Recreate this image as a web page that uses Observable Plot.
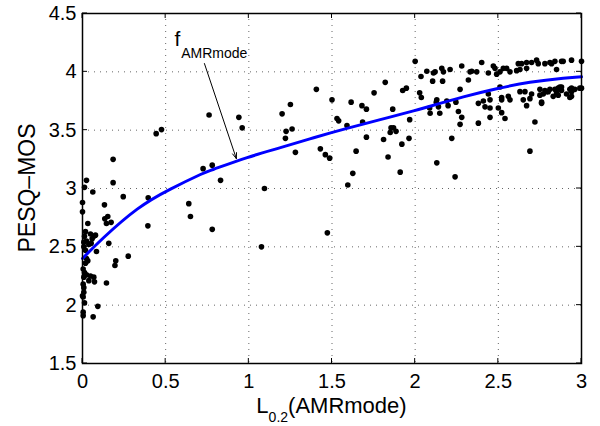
<!DOCTYPE html>
<html>
<head>
<meta charset="utf-8">
<script src="https://cdn.jsdelivr.net/npm/d3@7"></script>
<script src="https://cdn.jsdelivr.net/npm/@observablehq/plot@0.6"></script>
<style>
  body { margin: 0; background: #fff; }
  #chart svg { display: block; }
</style>
</head>
<body>
<div id="chart"></div>
<script>
// ---- tick values ----
const xTicks = [0, 0.5, 1, 1.5, 2, 2.5, 3];
const yTicks = [1.5, 2, 2.5, 3, 3.5, 4, 4.5];

// ---- axis labels ----
const yLabel = "PESQ–MOS";
const xLabelMain = "L";
const xLabelSub = "0.2";
const xLabelTail = "(AMRmode)";

// ---- fitted curve f_AMRmode ----
const curveX = [0, 0.128, 0.329, 0.529, 0.709, 0.789, 0.99, 1.19, 1.39, 1.59, 1.79, 1.99, 2.09, 2.29, 2.49, 2.69, 2.89, 3.0];
const curveY = [2.40, 2.58, 2.823, 2.995, 3.12, 3.165, 3.265, 3.35, 3.435, 3.515, 3.59, 3.665, 3.705, 3.785, 3.855, 3.91, 3.945, 3.957];

// ---- scatter points [L0.2, PESQ-MOS] ----
const scatter = [
  [0.024,3.07],[0.012,3.01],[0.184,3.05],[0.184,3.25],[0.062,2.97],[0.245,2.93],[0,2.88],[0,2.80],
  [0.132,2.86],[0.032,2.70],[0.134,2.74],[0.152,2.76],[0.144,2.70],[0.172,2.71],[0.393,2.68],[0.395,2.92],
  [0.018,2.63],[0.048,2.61],[0.068,2.59],[0.078,2.60],[0.058,2.57],[0.024,2.55],[0.012,2.59],[0.008,2.54],
  [0.038,2.52],[0.052,2.53],[0.008,2.50],[0.018,2.47],[0.084,2.46],[0.158,2.53],[0.2,2.38],[0.195,2.34],
  [0.275,2.42],[0.024,2.40],[0.032,2.38],[0.018,2.36],[0.004,2.31],[0.012,2.28],[0.024,2.26],[0.008,2.24],
  [0.048,2.25],[0.038,2.21],[0.072,2.20],[0.004,2.18],[0.008,2.15],[0.068,2.24],[0,2.08],[0.004,2.07],
  [0.012,2.02],[0.004,1.94],[0.004,1.91],[0.008,2.11],[0.144,2.19],[0.092,1.99],[0.064,1.90],
  [0.443,3.47],[0.475,3.505],[0.639,2.87],[0.649,2.76],[0.725,3.17],[0.78,3.20],[0.83,3.07],[0.78,2.65],
  [0.761,3.63],[0.94,3.61],[0.96,3.52],[1.094,3.0],[1.076,2.50],
  [1.20,3.64],[1.25,3.72],[1.224,3.49],[1.26,3.51],[1.22,3.43],[1.28,3.31],[1.406,3.85],[1.43,3.34],
  [1.46,3.29],[1.486,3.26],[1.472,2.62],[1.50,3.76],[1.53,3.60],[1.54,3.58],[1.59,3.54],[1.615,3.74],
  [1.68,3.71],[1.707,3.68],[1.645,3.32],[1.625,3.13],[1.595,3.03],[1.684,3.57],[1.707,3.44],[1.753,3.82],
  [1.82,3.91],[1.81,3.42],[1.837,3.27],[1.865,3.68],[1.85,3.48],[1.87,3.52],[1.855,3.52],[1.885,3.49],
  [1.92,3.38],[1.91,3.14],[1.963,3.43],[1.967,3.59],[1.925,3.84],[1.947,3.86],[2.0,4.09],[2.035,3.96],
  [2.027,3.82],[2.037,3.78],[2.087,3.69],[2.09,3.645],[2.13,3.76],[2.127,3.74],[2.14,3.70],[2.148,3.645],
  [2.19,3.75],[2.198,3.71],[2.245,3.74],[2.26,3.66],[2.28,3.61],[2.27,3.55],[2.105,3.92],[2.165,3.92],
  [2.07,4.005],[2.11,3.99],[2.12,4.0],[2.16,4.03],[2.17,4.0],[2.21,4.02],[2.28,4.05],[2.33,4.0],
  [2.34,4.005],[2.37,4.0],[2.40,4.08],[2.44,3.99],[2.47,4.05],[2.48,4.03],[2.49,3.98],[2.51,4.0],
  [2.53,4.03],[2.55,4.03],[2.57,4.0],[2.61,4.01],[2.62,4.07],[2.64,4.07],[2.63,4.02],[2.67,4.03],
  [2.67,4.08],[2.70,4.08],[2.73,4.10],[2.74,4.07],[2.78,4.07],[2.81,4.08],[2.82,4.07],[2.84,4.09],
  [2.85,4.02],[2.88,4.09],[2.89,4.09],[2.94,4.10],[3.0,4.09],
  [2.27,3.85],[2.32,3.93],[2.38,3.73],[2.41,3.75],[2.42,3.70],[2.45,3.76],[2.45,3.69],[2.38,3.56],
  [2.45,3.61],[2.44,3.81],[2.51,3.87],[2.50,3.69],[2.52,3.65],[2.54,3.60],[2.52,3.76],[2.57,3.76],
  [2.52,3.78],[2.56,3.79],[2.63,3.83],[2.66,3.83],[2.65,3.76],[2.69,3.77],[2.67,3.71],[2.70,3.81],
  [2.72,3.57],[2.75,3.80],[2.76,3.74],[2.78,3.84],[2.77,3.81],[2.80,3.83],[2.81,3.85],[2.84,3.85],
  [2.85,3.82],[2.86,3.86],[2.88,3.87],[2.91,3.81],[2.93,3.85],[2.94,3.86],[2.96,3.85],[3.0,3.86],
  [2.93,3.78],[2.83,3.79],[2.75,3.85],[2.79,3.83],[2.87,3.87],[2.88,3.84],[2.94,3.83],[2.99,3.86],
  [2.94,3.79],[2.86,3.80],[2.76,3.73],
  [2.22,3.43],[2.13,3.22],[2.24,3.10],[2.69,3.32]
];

// ---- annotation ----
const annotArrow = [{x1: 0.733, y1: 4.071, x2: 0.925, y2: 3.256}];
const annotMain = [{x: 0.553, y: 4.283, text: "f"}];
const annotSub = [{x: 0.593, y: 4.161, text: "AMRmode"}];

const curve = curveX.map((x, i) => ({x, y: curveY[i]}));
const points = scatter.map(([x, y]) => ({x, y}));

const chart = Plot.plot({
  width: 600,
  height: 426,
  marginLeft: 82,
  marginRight: 19,
  marginTop: 13,
  marginBottom: 63,
  style: {fontFamily: "'Liberation Sans', Arial, Helvetica, sans-serif", fontSize: "20px", background: "white", color: "black"},
  x: {domain: [0, 3]},
  y: {domain: [1.5, 4.5]},
  marks: [
    Plot.gridX(xTicks.slice(1, -1), {stroke: "#000", strokeOpacity: 0.6, strokeDasharray: "1,5", strokeWidth: 1}),
    Plot.gridY(yTicks.slice(1, -1), {stroke: "#000", strokeOpacity: 0.6, strokeDasharray: "1,5", strokeWidth: 1}),
    Plot.dot(points, {x: "x", y: "y", r: 2.8, fill: "black", stroke: "none"}),
    Plot.line(curve, {x: "x", y: "y", stroke: "#0000ff", strokeWidth: 3, curve: "natural"}),
    Plot.arrow(annotArrow, {x1: "x1", y1: "y1", x2: "x2", y2: "y2", stroke: "black", strokeWidth: 1, headLength: 9, headAngle: 40}),
    Plot.text(annotMain, {x: "x", y: "y", text: "text", fontSize: 21, textAnchor: "start", lineAnchor: "middle", fill: "black"}),
    Plot.text(annotSub, {x: "x", y: "y", text: "text", fontSize: 14, textAnchor: "start", lineAnchor: "middle", fill: "black"}),
    Plot.frame({stroke: "black", strokeWidth: 1.5}),
    Plot.axisX(xTicks, {tickSize: 0, tickPadding: 10, tickFormat: d => String(d), fontSize: 20, label: null}),
    Plot.axisY(yTicks, {tickSize: 0, tickPadding: 6, tickFormat: d => String(d), fontSize: 20, label: null})
  ]
});

document.getElementById("chart").appendChild(chart);

// inward tick marks on all four sides, placed through Plot's scales
const xs = chart.scale("x"), ys = chart.scale("y");
const [xl, xr] = xs.range;
const [yb, yt] = ys.range;
const svg = d3.select(chart);
const tg = svg.append("g").attr("stroke", "black").attr("stroke-width", 1);
const tl = 5;
for (const t of xTicks) {
  const px = xs.apply(t);
  tg.append("line").attr("x1", px).attr("x2", px).attr("y1", yb).attr("y2", yb - tl);
  tg.append("line").attr("x1", px).attr("x2", px).attr("y1", yt).attr("y2", yt + tl);
}
for (const t of yTicks) {
  const py = ys.apply(t);
  tg.append("line").attr("x1", xl).attr("x2", xl + tl).attr("y1", py).attr("y2", py);
  tg.append("line").attr("x1", xr).attr("x2", xr - tl).attr("y1", py).attr("y2", py);
}

// x axis label with subscript
const xt = svg.append("text")
  .attr("x", (xl + xr) / 2).attr("y", yb + 50)
  .attr("text-anchor", "middle").attr("fill", "black")
  .style("font-size", "22px");
xt.append("tspan").text(xLabelMain);
xt.append("tspan").attr("dy", 9).style("font-size", "14px").text(xLabelSub);
xt.append("tspan").attr("dy", -9).text(xLabelTail);

// y axis label
svg.append("text")
  .attr("transform", `translate(${xl - 47},${(yb + yt) / 2}) rotate(-90)`)
  .attr("text-anchor", "middle").attr("fill", "black")
  .style("font-size", "23px")
  .text(yLabel);
</script>
</body>
</html>
